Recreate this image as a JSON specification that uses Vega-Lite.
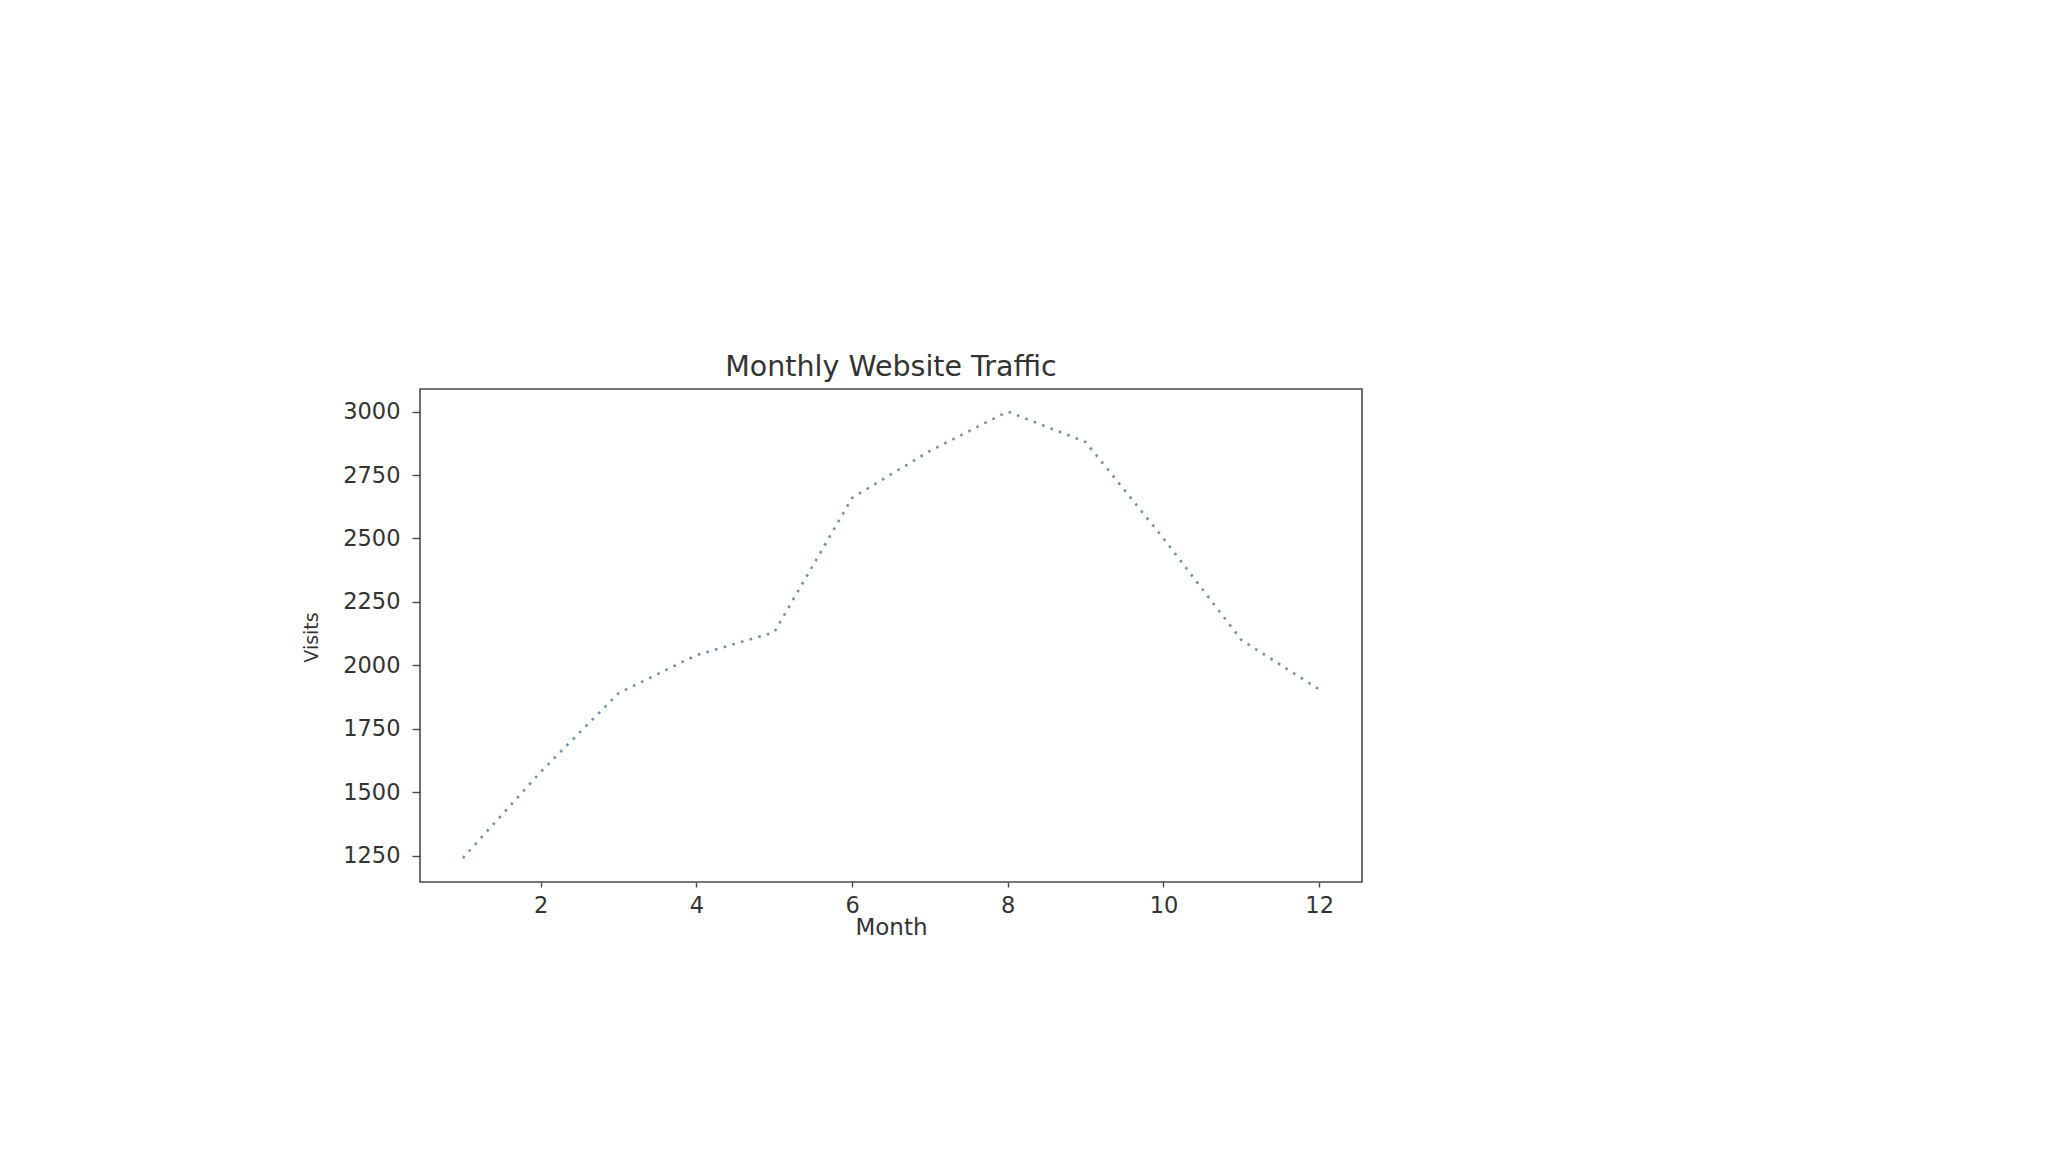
{
  "$schema": "https://vega.github.io/schema/vega-lite/v6.json",
  "autosize": {"type": "none"},
  "padding": {"left": 420, "top": 389, "right": 686, "bottom": 270},
  "width": 942,
  "height": 493,
  "background": "white",
  "config": {
    "font": "DejaVu Sans",
    "view": {"stroke": "#4a4a4a", "strokeWidth": 1.6},
    "axis": {"grid": false, "domain": false}
  },
  "title": {
    "text": "Monthly Website Traffic",
    "font": "DejaVu Sans",
    "fontSize": 28.5,
    "fontWeight": "normal",
    "color": "#333333",
    "baseline": "alphabetic",
    "offset": -15,
    "anchor": "middle"
  },
  "data": {
    "values": [
      {"Month": 1, "Visits": 1240},
      {"Month": 2, "Visits": 1580},
      {"Month": 3, "Visits": 1890},
      {"Month": 4, "Visits": 2040},
      {"Month": 5, "Visits": 2130},
      {"Month": 6, "Visits": 2660},
      {"Month": 7, "Visits": 2845},
      {"Month": 8, "Visits": 3000},
      {"Month": 9, "Visits": 2880},
      {"Month": 10, "Visits": 2500},
      {"Month": 11, "Visits": 2100},
      {"Month": 12, "Visits": 1905}
    ]
  },
  "mark": {
    "type": "line",
    "stroke": "#6f93ab",
    "strokeWidth": 2.6,
    "strokeDash": [2.6, 6.4],
    "strokeCap": "butt"
  },
  "encoding": {
    "x": {
      "field": "Month",
      "type": "quantitative",
      "scale": {"domain": [0.45, 12.55], "nice": false, "zero": false},
      "axis": {
        "values": [2, 4, 6, 8, 10, 12],
        "format": "d",
        "tickSize": 5,
        "tickColor": "#4a4a4a",
        "tickWidth": 1.4,
        "labelFontSize": 22.5,
        "labelColor": "#333333",
        "labelPadding": 7,
        "labelFont": "DejaVu Sans",
        "title": "Month",
        "titleFont": "DejaVu Sans",
        "titleFontSize": 23,
        "titleFontWeight": "normal",
        "titleColor": "#333333",
        "titleBaseline": "alphabetic",
        "titleY": 52
      }
    },
    "y": {
      "field": "Visits",
      "type": "quantitative",
      "scale": {"domain": [1146, 3089], "nice": false, "zero": false},
      "axis": {
        "values": [1250, 1500, 1750, 2000, 2250, 2500, 2750, 3000],
        "format": "d",
        "tickSize": 8,
        "tickColor": "#4a4a4a",
        "tickWidth": 1.4,
        "labelFontSize": 22.5,
        "labelColor": "#333333",
        "labelPadding": 12,
        "labelFont": "DejaVu Sans",
        "title": "Visits",
        "titleFont": "DejaVu Sans",
        "titleFontSize": 19,
        "titleFontWeight": "normal",
        "titleColor": "#333333",
        "titleAngle": -90,
        "titleAlign": "center",
        "titleBaseline": "alphabetic",
        "titleX": -103,
        "titleY": 248
      }
    }
  }
}
